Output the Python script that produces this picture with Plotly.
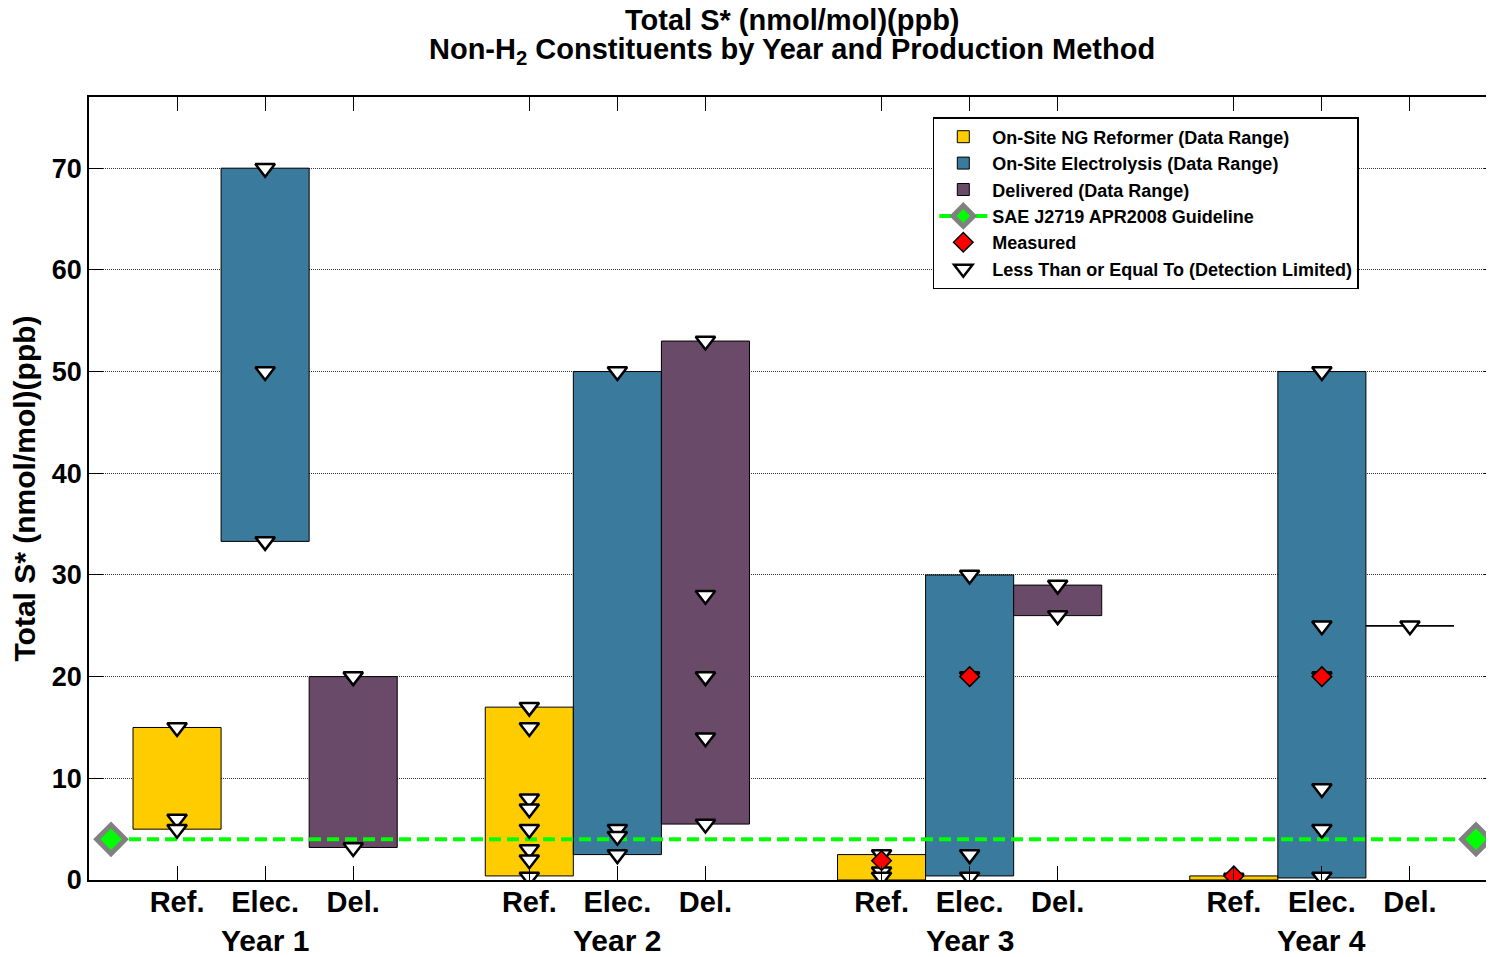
import plotly.graph_objects as go

years = ["Year 1", "Year 2", "Year 3", "Year 4"]
methods = ["Ref.", "Elec.", "Del."]

# data ranges (low, high) per year
ref_low = [5, 0.4, 0, 0]
ref_high = [15, 17, 2.5, 0.4]
elec_low = [33.3, 2.5, 0.4, 0.2]
elec_high = [70, 50, 30, 50]
del_low = [3.2, 5.5, 26, 25]
del_high = [20, 53, 29, 25]

# detection-limited values (<=)
ref_dl = [[15, 6, 5], [17, 15, 8, 7, 5, 3, 2, 0.3], [2.5, 0.8, 0.3], [0.2]]
elec_dl = [[70, 50, 33.3], [50, 5, 4.3, 2.5], [30, 20, 2.5, 0.3], [50, 25, 20, 9, 5, 0.3]]
del_dl = [[20, 3.2], [53, 28, 20, 14, 5.5], [29, 26], [25]]

# measured values
ref_meas = [[], [], [1.9], [0.4]]
elec_meas = [[], [], [20], [20]]
del_meas = [[], [], [], []]

guideline = 4
guide_x = [0.25, 15.75]

colors = ["#FFCC00", "#3A7A9C", "#6A4A69"]
names = ["On-Site NG Reformer (Data Range)", "On-Site Electrolysis (Data Range)", "Delivered (Data Range)"]
lows = [ref_low, elec_low, del_low]
highs = [ref_high, elec_high, del_high]
dls = [ref_dl, elec_dl, del_dl]
meas = [ref_meas, elec_meas, del_meas]

FONT = "Arial, Liberation Sans, Helvetica, sans-serif"

def pos(i, j):
    return 1 + 4 * i + j

fig = go.Figure()

# guideline (drawn behind bars)
fig.add_trace(go.Scatter(
    x=guide_x, y=[guideline] * len(guide_x), mode="lines+markers",
    name="<b>SAE J2719 APR2008 Guideline</b>",
    line=dict(color="#00FF00", width=4, dash="12px,6px"),
    marker=dict(symbol="diamond", size=22, color="#00FF00", line=dict(color="#808080", width=5)),
    legendrank=4,
))

BW = 1.0
for j in range(3):
    xs, bases, hs = [], [], []
    for i in range(4):
        xs.append(pos(i, j))
        bases.append(lows[j][i])
        hs.append(highs[j][i] - lows[j][i])
    fig.add_trace(go.Bar(
        x=xs, y=hs, base=bases, width=BW, name=f"<b>{names[j]}</b>",
        marker=dict(color=colors[j], line=dict(color="black", width=1)),
        legendrank=j + 1, hoverinfo="skip",
    ))
    # zero-height ranges drawn as a line
    for i in range(4):
        if highs[j][i] == lows[j][i]:
            fig.add_trace(go.Scatter(
                x=[pos(i, j) - BW / 2, pos(i, j) + BW / 2], y=[lows[j][i]] * 2,
                mode="lines", line=dict(color="black", width=1.2), showlegend=False,
            ))

# detection limited triangles
tx, ty = [], []
for j in range(3):
    for i in range(4):
        for v in dls[j][i]:
            tx.append(pos(i, j)); ty.append(v)
fig.add_trace(go.Scatter(
    x=tx, y=ty, mode="markers", name="<b>Less Than or Equal To (Detection Limited)</b>",
    marker=dict(symbol="triangle-down", size=17, color="white", line=dict(color="black", width=2.5)),
    legendrank=6,
))

# measured
mx, my = [], []
for j in range(3):
    for i in range(4):
        for v in meas[j][i]:
            mx.append(pos(i, j)); my.append(v)
fig.add_trace(go.Scatter(
    x=mx, y=my, mode="markers", name="<b>Measured</b>",
    marker=dict(symbol="diamond", size=15, color="red", line=dict(color="black", width=1.5)),
    legendrank=5,
))

tickvals = [pos(i, j) for i in range(4) for j in range(3)]
ticktext = [methods[j] for i in range(4) for j in range(3)]

fig.update_layout(
    width=1492, height=949,
    paper_bgcolor="white", plot_bgcolor="white",
    margin=dict(l=81, r=0, t=89, b=77),
    font=dict(family=FONT, color="black"),
    barmode="overlay",
    xaxis=dict(
        range=[0, 16], tickvals=tickvals, ticktext=[f"<b>{t}</b>" for t in ticktext],
        ticks="inside", ticklen=14, tickcolor="black", tickwidth=1,
        showline=True, linecolor="black", linewidth=1.5, mirror="ticks",
        showgrid=False, zeroline=False, ticklabelstandoff=-5,
        tickfont=dict(size=29, family=FONT, color="black"),
    ),
    yaxis=dict(
        range=[0, 77], tickvals=list(range(0, 80, 10)),
        ticktext=[f"<b>{v}</b>" for v in range(0, 80, 10)],
        ticks="inside", ticklen=14, tickcolor="black", tickwidth=1,
        showline=True, linecolor="black", linewidth=1.5, mirror="ticks",
        showgrid=True, gridcolor="#333333", griddash="1px,1px", gridwidth=1,
        zeroline=False,
        tickfont=dict(size=27, family=FONT, color="black"),
        title=dict(text="<b>Total S* (nmol/mol)(ppb)</b>", font=dict(size=30, family=FONT, color="black"), standoff=8),
    ),
    legend=dict(
        x=(934 - 89) / 1411, y=(880 - 117) / 783, xanchor="left", yanchor="top",
        bgcolor="white", bordercolor="black", borderwidth=1.5,
        font=dict(size=18, family=FONT, color="black"),
        traceorder="normal", itemwidth=48, tracegroupgap=0,
    ),
    showlegend=True,
)

# title lines
fig.add_annotation(
    x=(793 - 89) / 1411, y=(880 - 20) / 783, xref="paper", yref="paper",
    text="<b>Total S* (nmol/mol)(ppb)</b>", showarrow=False,
    xanchor="center", yanchor="middle", font=dict(size=29, family=FONT, color="black"),
)
fig.add_annotation(
    x=(793 - 89) / 1411, y=(880 - 51) / 783, xref="paper", yref="paper",
    text="<b>Non-H<sub>2</sub> Constituents by Year and Production Method</b>", showarrow=False,
    xanchor="center", yanchor="middle", font=dict(size=29, family=FONT, color="black"),
)

for i, yr in enumerate(years):
    fig.add_annotation(
        x=pos(i, 1), y=-0.077, xref="x", yref="paper", text=f"<b>{yr}</b>",
        showarrow=False, yanchor="middle", xanchor="center",
        font=dict(size=30, family=FONT, color="black"),
    )

fig.write_html("out.html")
